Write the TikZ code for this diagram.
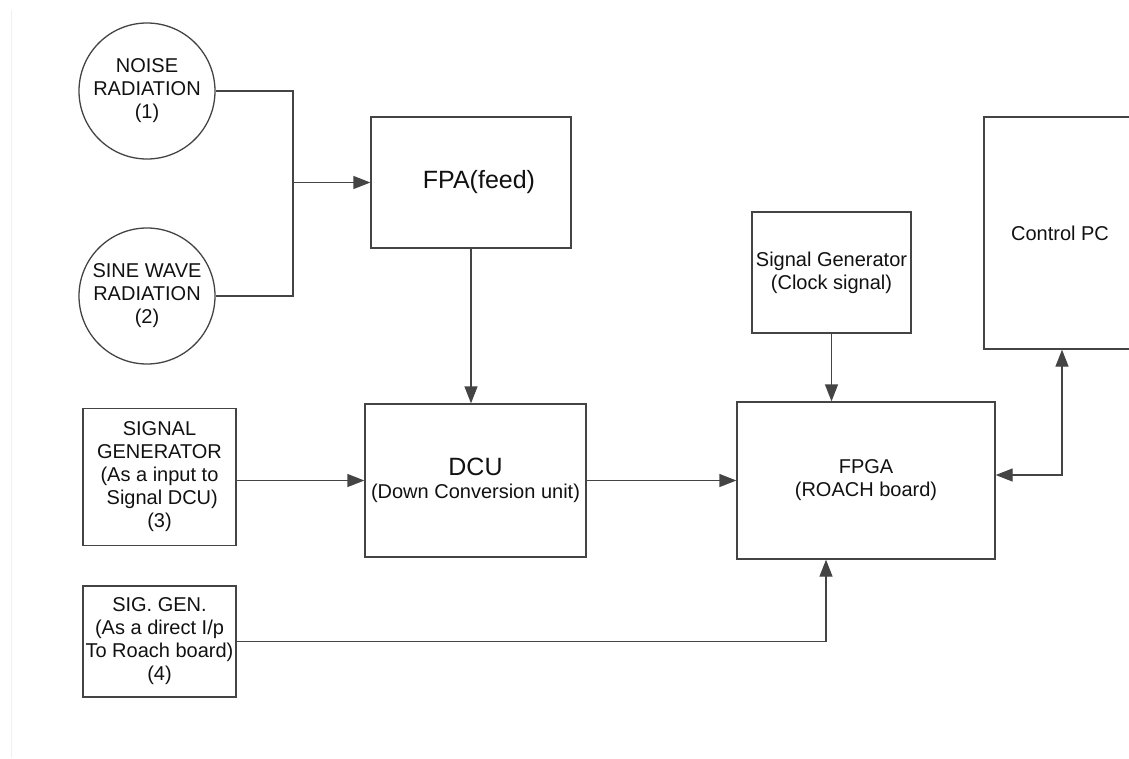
\documentclass[tikz,border=0pt]{standalone}
\usepackage{fontspec}
\setmainfont{Liberation Sans}
\usetikzlibrary{arrows.meta}
\definecolor{linegray}{HTML}{444444}
\definecolor{txtblack}{HTML}{111111}
\newcommand{\normaltxt}{\fontsize{20}{23}\selectfont}
\newcommand{\bigtxt}{\fontsize{25}{28}\selectfont}
\tikzset{
    blk/.style={draw=linegray, line width=1.3pt, inner sep=0pt, align=center, text=txtblack, font=\normaltxt},
    src/.style={blk, circle, minimum size=136pt},
    wire/.style={draw=linegray, line width=1.3pt},
    arr/.style={wire, -{Triangle[length=17pt, width=13pt]}},
    biarr/.style={wire, {Triangle[length=17pt, width=13pt]}-{Triangle[length=17pt, width=13pt]}}
}
\begin{document}
\begin{tikzpicture}[x=1pt, y=-1pt]
    \useasboundingbox (0,0) rectangle (1129,758);
    \clip (0,0) rectangle (1129,758);

    \coordinate (N) at (147,91);
    \coordinate (S) at (147,296);
    \coordinate (F) at (471,182.5);
    \coordinate (D) at (475.5,480.5);
    \coordinate (G3) at (159.5,477);
    \coordinate (G4) at (159.5,641.5);
    \coordinate (R) at (866,480.5);
    \coordinate (K) at (831.5,272.5);
    \coordinate (P) at (1060,233);
    \coordinate (J) at (293,182.5);

    \draw[gray!12] (11,10) -- (11,758);

    \node[src] (noise) at (N) {NOISE\\RADIATION\\(1)};
    \node[src] (sine) at (S) {SINE WAVE\\RADIATION\\(2)};

    \node[blk, minimum width=200pt, minimum height=131pt, font=\bigtxt] (fpa) at (F) {\hspace{16pt}FPA(feed)};
    \node[blk, minimum width=221pt, minimum height=153pt] (dcu) at (D) {{\bigtxt DCU}\\[0pt](Down Conversion unit)};

    \node[blk, minimum width=153pt, minimum height=137pt] (sig3) at (G3) {SIGNAL\\GENERATOR\\(As a input to\\\ Signal DCU)\\(3)};
    \node[blk, minimum width=153pt, minimum height=111pt] (sig4) at (G4) {SIG. GEN.\\(As a direct I/p\\To Roach board)\\(4)};

    \node[blk, minimum width=258pt, minimum height=157pt] (fpga) at (R) {FPGA\\(ROACH board)};
    \node[blk, minimum width=159pt, minimum height=121pt] (clk) at (K) {Signal Generator\\(Clock signal)};
    \node[blk, minimum width=152pt, minimum height=232pt] (pc) at (P) {Control PC};

    \draw[wire] (noise.east) -| (J);
    \draw[wire] (sine.east) -| (J);
    \draw[arr] (J) -- (fpa.west);

    \draw[arr] (fpa.south) -- (fpa.south |- dcu.north);
    \draw[arr] (sig3.east |- dcu.west) -- (dcu.west);
    \draw[arr] (dcu.east) -- (fpga.west);

    \draw[arr] (sig4.east) -| ([xshift=-40pt]fpga.south);
    \draw[arr] (clk.south) -- (clk.south |- fpga.north);
    \draw[biarr] ([yshift=5.5pt]fpga.east) -| ([xshift=2pt]pc.south);
\end{tikzpicture}
\end{document}
